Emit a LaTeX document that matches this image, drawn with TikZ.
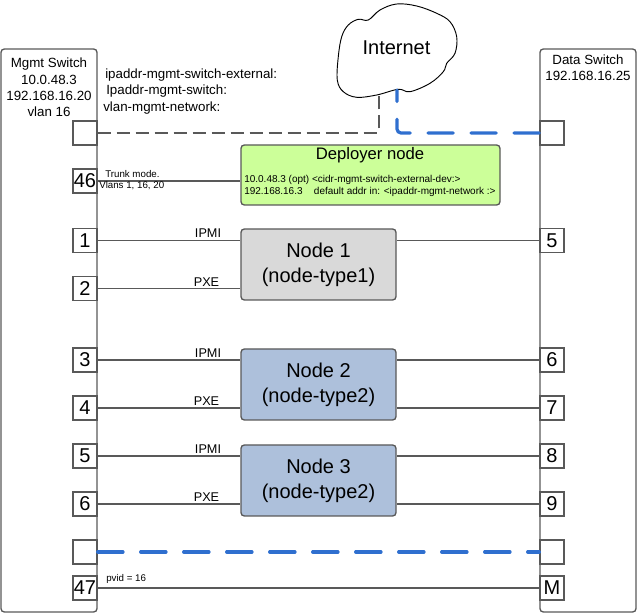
\documentclass[tikz,border=0pt]{standalone}
\usepackage{fontspec}
\setmainfont{Liberation Sans}
\usetikzlibrary{positioning,calc}

\definecolor{linegray}{HTML}{595959}
\definecolor{linkblue}{HTML}{2F6FCF}
\definecolor{deployergreen}{HTML}{CCFF99}
\definecolor{nodegray}{HTML}{D9D9D9}
\definecolor{nodeblue}{HTML}{ADC0DB}

\tikzset{
  switchbox/.style={draw=linegray,line width=1pt,rounded corners=2.5pt,minimum width=72pt,minimum height=422.25pt,inner sep=0pt},
  portbox/.style={draw=linegray,fill=white,line width=1pt,minimum width=18pt,minimum height=18pt,inner sep=0pt,font=\fontsize{15}{15}\selectfont},
  hostbox/.style={draw=linegray,line width=1pt,rounded corners=2.5pt,minimum width=116.25pt,minimum height=53.25pt,align=center,font=\fontsize{15}{18.5}\selectfont},
  link/.style={draw=linegray,line width=1pt},
  mgmtlink/.style={draw=linegray,line width=1pt,rounded corners=1.5pt,dash pattern=on 9.75pt off 4.5pt},
  datalink/.style={draw=linkblue,line width=2.4pt,rounded corners=3pt,line cap=round,dash pattern=on 19pt off 13.25pt},
  swlabel/.style={align=center,inner sep=0pt,font=\fontsize{10}{12.2}\selectfont},
  note/.style={anchor=west,inner sep=0pt,font=\fontsize{10}{12}\selectfont},
  tiny/.style={anchor=west,inner sep=0pt,font=\fontsize{7.3}{9}\selectfont},
  wire/.style={inner sep=0pt,font=\fontsize{9.5}{11}\selectfont}
}

\begin{document}
\begin{tikzpicture}[x=0.75pt,y=-0.75pt]

\useasboundingbox (0,0) rectangle (637,613);

% switches
\node [switchbox] at (49,330.5) (mgmt) {};
\node [switchbox] at (588,330.5) (data) {};
\node [swlabel] at (49,87.5) (mgmttxt) {Mgmt Switch\\10.0.48.3\\192.168.16.20\\vlan 16};
\node [swlabel] at (588,67.5) (datatxt) {Data Switch\\192.168.16.25};

% cloud
\draw [black,line width=0.7pt,fill=white] plot [smooth cycle,tension=0.6] coordinates {
  (368.3,20) (380,10) (396.7,4) (416.7,6) (436.7,13.3) (450,21.7) (456.7,36.7) (455,53.3)
  (446.7,63.3) (443.3,71.7) (430,83.3) (410,91.7) (398.3,89.3) (376.7,95) (356.7,97.3)
  (343.3,91.7) (337.3,80) (338.3,56.7) (341.7,36.7) (348.3,25) (358.3,19.3)};
\node [inner sep=0pt,font=\fontsize{15}{15}\selectfont] at (396.5,48) (internet) {Internet};
\coordinate (cloudmgmt) at (379,96);
\coordinate (clouddata) at (397,90);

% ports on the left
\node [portbox] at (85,133) (lx) {};
\node [portbox] at (85,181) (l46) {46};
\node [portbox] at (85,240.3) (l1) {1};
\node [portbox] at (85,288.6) (l2) {2};
\node [portbox] at (85,360) (l3) {3};
\node [portbox] at (85,408) (l4) {4};
\node [portbox] at (85,456) (l5) {5};
\node [portbox] at (85,504) (l6) {6};
\node [portbox] at (85,552) (ly) {};
\node [portbox] at (85,588) (l47) {47};

% ports on the right
\node [portbox] at (552,133) (rx) {};
\node [portbox] at (552,240.3) (r5) {5};
\node [portbox] at (552,360) (r6) {6};
\node [portbox] at (552,408) (r7) {7};
\node [portbox] at (552,456) (r8) {8};
\node [portbox] at (552,504) (r9) {9};
\node [portbox] at (552,552) (ry) {};
\node [portbox] at (552,588) (rm) {M};

% hosts
\node [hostbox,fill=deployergreen,minimum width=194.25pt,minimum height=45pt] at (370.5,175) (deployer) {};
\node [inner sep=0pt,font=\fontsize{12.5}{12.5}\selectfont] at (370,155) (deployertxt) {Deployer node};
\node [tiny,align=left,font=\fontsize{7.5}{9}\selectfont] at (244,186) (deployeraddr) {10.0.48.3 (opt) <cidr-mgmt-switch-external-dev:>\\192.168.16.3\hspace{8.5pt}default addr in: <ipaddr-mgmt-network :>};
\node [hostbox,fill=nodegray] at (318.5,264.5) (n1) {Node 1\\(node-type1)};
\node [hostbox,fill=nodeblue] at (318.5,384.5) (n2) {Node 2\\(node-type2)};
\node [hostbox,fill=nodeblue] at (318.5,480.5) (n3) {Node 3\\(node-type2)};

% wires
\path [link] (l46.east) edge (l46 -| deployer.west);
\path [link] (l1.east) edge (l1 -| n1.west);
\path [link] (l2.east) edge (l2 -| n1.west);
\path [link] (l3.east) edge (l3 -| n2.west);
\path [link] (l4.east) edge (l4 -| n2.west);
\path [link] (l5.east) edge (l5 -| n3.west);
\path [link] (l6.east) edge (l6 -| n3.west);
\path [link] (r5.west) edge (r5 -| n1.east);
\path [link] (r6.west) edge (r6 -| n2.east);
\path [link] (r7.west) edge (r7 -| n2.east);
\path [link] (r8.west) edge (r8 -| n3.east);
\path [link] (r9.west) edge (r9 -| n3.east);
\path [link] (l47.east) edge (rm.west);

% uplinks
\draw [mgmtlink] (lx.east) -- (lx.east -| cloudmgmt) -- (cloudmgmt);
\draw [datalink] (rx.west) -- (rx.west -| clouddata) -- (clouddata);
\draw [datalink] (ly.east) -- (ry.west);

% texts
\node [note] at (105,75) (extnote) {ipaddr-mgmt-switch-external:};
\node [note] at (106,91) (ipnote) {Ipaddr-mgmt-switch:};
\node [note] at (103,108) (vlannote) {vlan-mgmt-network:};
\node [tiny] at (105,174) (trunknote) {Trunk mode.};
\node [tiny] at (99,186) (vlansnote) {Vlans 1, 16, 20};
\node [tiny] at (106,579) (pvidnote) {pvid = 16};
\node [wire] at (208,233) (ipmi1) {IPMI};
\node [wire] at (206.5,282) (pxe1) {PXE};
\node [wire] at (208,353) (ipmi2) {IPMI};
\node [wire] at (206.5,401.5) (pxe2) {PXE};
\node [wire] at (208,449) (ipmi3) {IPMI};
\node [wire] at (206.5,497) (pxe3) {PXE};

\end{tikzpicture}
\end{document}
